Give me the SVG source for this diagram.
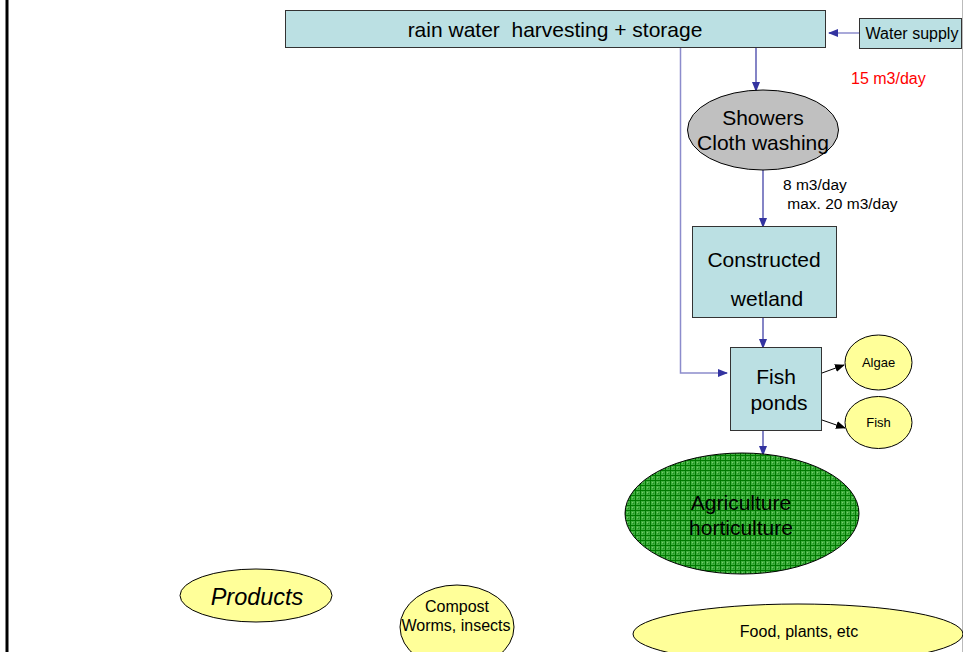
<svg xmlns="http://www.w3.org/2000/svg" width="963" height="652" viewBox="0 0 963 652">
<style>
.box{fill:#BBE0E3;stroke:#333333;stroke-width:1}
.yel{fill:#FFFF99;stroke:#000000;stroke-width:1}
.t{font-family:"Liberation Sans",Arial,sans-serif;fill:#000000;text-anchor:middle}
.c{fill:none;stroke:#3333A0;stroke-width:1.2}
.cl{fill:none;stroke:#8C8CCC;stroke-width:1.5}
.k{fill:none;stroke:#000000;stroke-width:1}
</style>
<defs>
<marker id="ab" markerWidth="10" markerHeight="8" refX="9" refY="4" orient="auto" markerUnits="userSpaceOnUse">
<path d="M0,0 L10,4 L0,8 Z" fill="#3333A0"/>
</marker>
<marker id="ak" markerWidth="10" markerHeight="8" refX="9" refY="4" orient="auto" markerUnits="userSpaceOnUse">
<path d="M0,0 L10,4 L0,8 Z" fill="#000000"/>
</marker>
<pattern id="grid" width="5" height="5" patternUnits="userSpaceOnUse">
<rect width="5" height="5" fill="#3FAF3F"/>
<rect x="0" y="0" width="1" height="1" fill="#7ACC6A"/>
<rect x="2" y="2" width="1" height="1" fill="#7ACC6A"/>
<path d="M0,0.5 H5 M0.5,0 V5" stroke="#007A00" stroke-width="1"/>
<rect x="3" y="3" width="1" height="1" fill="#1F8F1F"/>
</pattern>
</defs>
<rect width="963" height="652" fill="#FFFFFF"/>
<line x1="7" y1="0" x2="7" y2="652" stroke="#000000" stroke-width="3"/>
<line x1="962.5" y1="0" x2="962.5" y2="652" stroke="#BBBBBB" stroke-width="1"/>

<g id="connectors">
<line class="cl" x1="859" y1="33" x2="830" y2="33"/>
<line class="c" x1="834" y1="33" x2="829" y2="33" marker-end="url(#ab)"/>
<line class="c" x1="756" y1="47" x2="756" y2="91" marker-end="url(#ab)"/>
<polyline class="cl" points="680.5,47 680.5,373 722,373"/>
<line class="c" x1="718" y1="373" x2="727" y2="373" marker-end="url(#ab)"/>
<line class="c" x1="763" y1="170" x2="763" y2="227" marker-end="url(#ab)"/>
<line class="c" x1="763" y1="318" x2="763" y2="348" marker-end="url(#ab)"/>
<line class="c" x1="763" y1="431" x2="763" y2="455" marker-end="url(#ab)"/>
<line class="k" x1="822" y1="373" x2="844" y2="365" marker-end="url(#ak)"/>
<line class="k" x1="822" y1="420" x2="845" y2="428" marker-end="url(#ak)"/>
</g>

<g id="storage">
<rect class="box" x="285.5" y="10.5" width="540" height="37"/>
<text class="t" x="555" y="37" font-size="21" xml:space="preserve">rain water  harvesting + storage</text>
</g>
<g id="water-supply">
<rect class="box" x="859.5" y="18.5" width="102" height="30"/>
<text class="t" x="912" y="39" font-size="16">Water supply</text>
</g>
<g id="label-15">
<text x="851" y="84" font-family="Liberation Sans,Arial,sans-serif" font-size="16" fill="#FF0000">15 m3/day</text>
</g>
<g id="showers">
<ellipse cx="763" cy="130" rx="75.5" ry="40" fill="#C0C0C0" stroke="#000000" stroke-width="1"/>
<text class="t" x="763" y="125" font-size="21">Showers</text>
<text class="t" x="763" y="150" font-size="21">Cloth washing</text>
</g>
<g id="label-8">
<text x="783" y="190" font-family="Liberation Sans,Arial,sans-serif" font-size="15.5">8 m3/day</text>
<text x="783" y="209" font-family="Liberation Sans,Arial,sans-serif" font-size="15.5" xml:space="preserve"> max. 20 m3/day</text>
</g>
<g id="wetland">
<rect class="box" x="692.5" y="226.5" width="144" height="91"/>
<text class="t" x="764" y="267" font-size="21">Constructed</text>
<text class="t" x="767" y="306" font-size="21">wetland</text>
</g>
<g id="fish-ponds">
<rect class="box" x="730.5" y="347.5" width="91" height="83"/>
<text class="t" x="776" y="384" font-size="21">Fish</text>
<text class="t" x="779" y="410" font-size="21">ponds</text>
</g>
<g id="algae">
<ellipse class="yel" cx="878.5" cy="362.5" rx="33.5" ry="27.5"/>
<text class="t" x="878.5" y="367" font-size="13">Algae</text>
</g>
<g id="fish">
<ellipse class="yel" cx="878.5" cy="422.5" rx="33.5" ry="26"/>
<text class="t" x="878.5" y="427" font-size="13">Fish</text>
</g>
<g id="agriculture">
<ellipse cx="742" cy="513.5" rx="117" ry="60.5" fill="url(#grid)" stroke="#000000" stroke-width="1"/>
<text class="t" x="741" y="510" font-size="21">Agriculture</text>
<text class="t" x="741" y="535" font-size="21">horticulture</text>
</g>
<g id="products">
<ellipse class="yel" cx="256" cy="595.5" rx="76" ry="26.5"/>
<text class="t" x="257" y="605" font-size="23.5" font-style="italic">Products</text>
</g>
<g id="compost">
<ellipse class="yel" cx="457" cy="627" rx="57" ry="42"/>
<text class="t" x="457" y="612" font-size="16">Compost</text>
<text class="t" x="456" y="631" font-size="16">Worms, insects</text>
</g>
<g id="food">
<ellipse class="yel" cx="798" cy="634" rx="165" ry="30"/>
<text class="t" x="799" y="637" font-size="16">Food, plants, etc</text>
</g>
</svg>
